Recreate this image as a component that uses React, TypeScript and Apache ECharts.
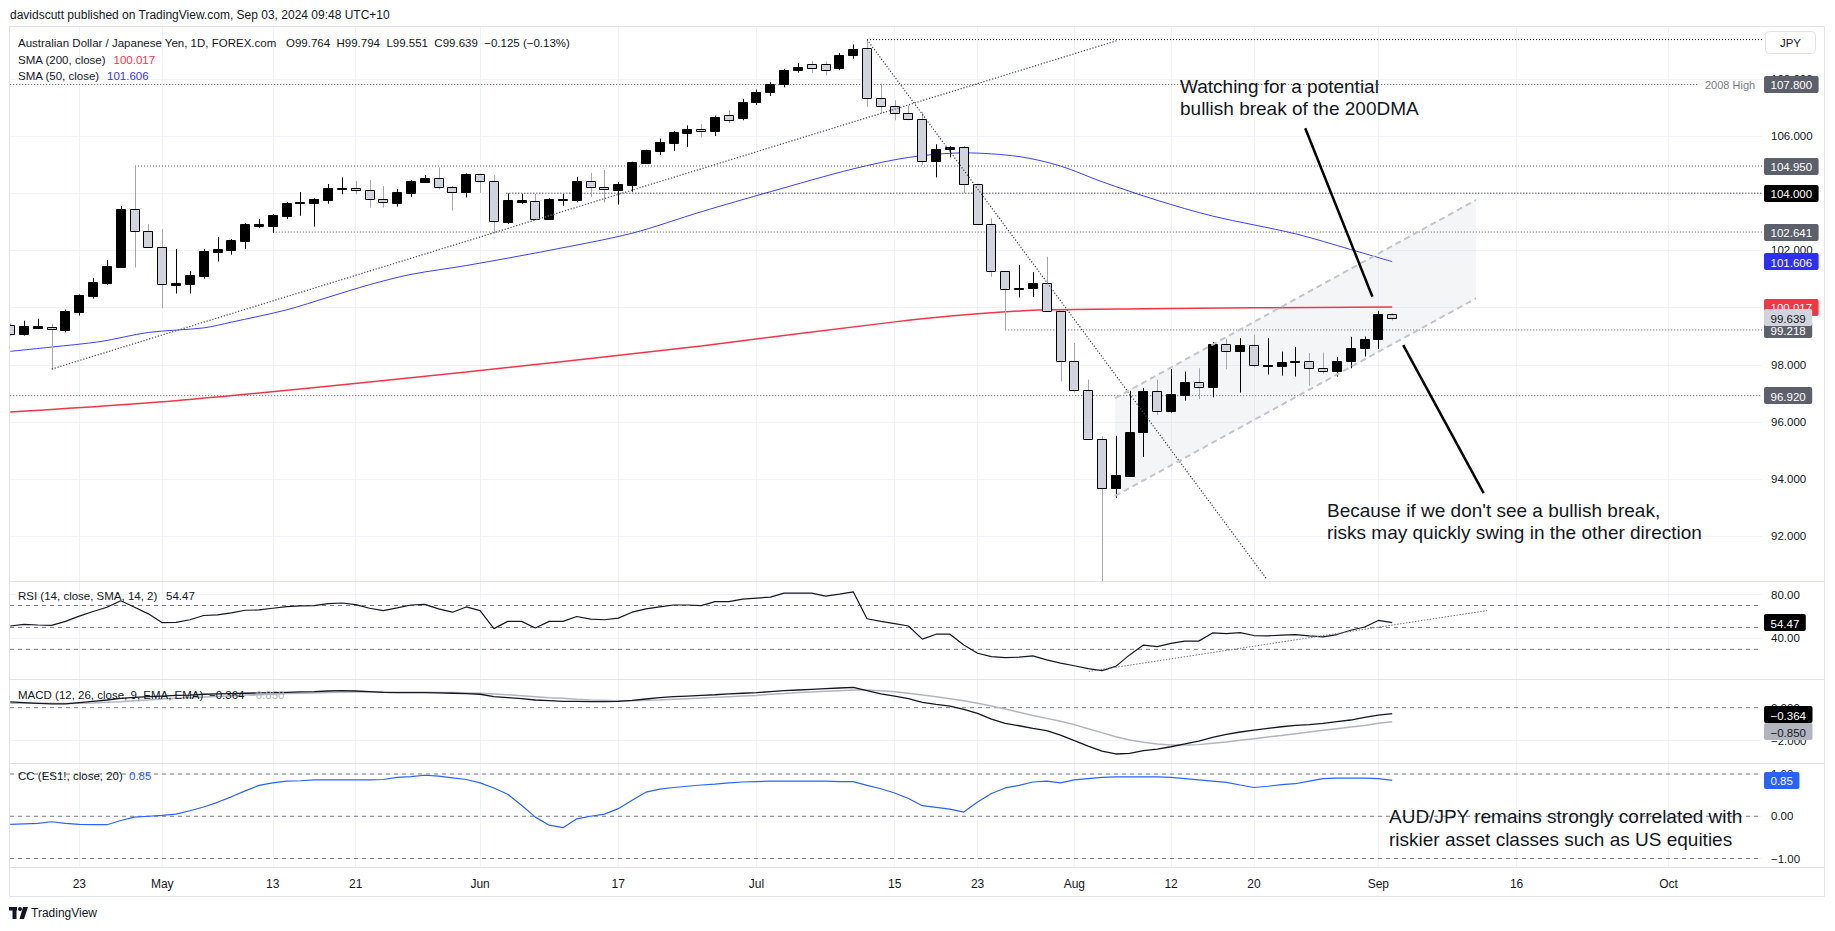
import React, { useEffect, useRef } from "react";
import * as echarts from "echarts";

// ---------------- DATA ----------------
// AUD/JPY daily candles, one row per trading day from Tue 16 Apr 2024 to Tue 3 Sep 2024: [open, high, low, close]
const ohlc: number[][] = [
  [99.40, 99.45, 99.00, 99.07], [99.07, 99.54, 99.02, 99.36], [99.30, 99.61, 99.25, 99.36], [99.32, 99.43, 97.82, 99.25], [99.23, 99.93, 99.13, 99.89],
  [99.86, 100.46, 99.72, 100.44], [100.42, 101.04, 100.31, 100.90], [100.87, 101.66, 100.79, 101.46], [101.43, 103.55, 101.43, 103.44], [103.43, 104.95, 101.40, 102.67],
  [102.67, 102.92, 102.10, 102.13], [102.13, 102.75, 99.97, 100.82], [100.80, 102.05, 100.49, 100.86], [100.84, 101.28, 100.49, 101.13], [101.12, 102.05, 101.01, 101.98],
  [101.96, 102.47, 101.61, 102.05], [102.02, 102.40, 101.85, 102.36], [102.34, 102.96, 102.05, 102.92], [102.86, 103.10, 102.78, 102.92], [102.85, 103.27, 102.62, 103.24],
  [103.21, 103.69, 103.10, 103.67], [103.66, 104.04, 103.21, 103.69], [103.66, 103.82, 102.83, 103.79], [103.77, 104.32, 103.63, 104.17], [104.16, 104.55, 103.96, 104.18],
  [104.17, 104.42, 103.96, 104.10], [104.10, 104.46, 103.49, 103.78], [103.78, 104.25, 103.49, 103.68], [103.66, 104.14, 103.53, 104.03], [104.01, 104.46, 103.87, 104.42],
  [104.40, 104.63, 104.38, 104.53], [104.52, 104.90, 104.13, 104.20], [104.20, 104.25, 103.39, 104.03], [104.03, 104.69, 103.85, 104.67], [104.66, 104.68, 104.01, 104.41],
  [104.41, 104.63, 102.60, 103.02], [103.00, 103.99, 102.93, 103.76], [103.70, 103.98, 103.63, 103.75], [103.72, 103.97, 103.09, 103.11], [103.10, 103.82, 103.08, 103.79],
  [103.76, 103.97, 103.56, 103.78], [103.76, 104.57, 103.68, 104.42], [104.41, 104.71, 103.87, 104.20], [104.20, 104.81, 103.67, 104.13], [104.12, 104.39, 103.60, 104.31],
  [104.29, 105.10, 104.05, 105.09], [105.06, 105.52, 105.03, 105.50], [105.48, 105.91, 105.34, 105.78], [105.76, 106.17, 105.48, 106.13], [106.11, 106.37, 105.62, 106.26],
  [106.26, 106.41, 105.95, 106.16], [106.16, 106.72, 106.00, 106.66], [106.74, 106.90, 106.45, 106.57], [106.62, 107.30, 106.55, 107.20], [107.20, 107.62, 107.08, 107.55],
  [107.52, 107.88, 107.40, 107.80], [107.80, 108.35, 107.70, 108.29], [108.30, 108.55, 108.22, 108.42], [108.52, 108.62, 108.20, 108.36], [108.50, 108.60, 108.12, 108.30],
  [108.37, 108.90, 108.30, 108.82], [108.82, 109.20, 108.70, 109.05], [109.09, 109.37, 107.02, 107.34], [107.34, 107.83, 106.79, 107.06], [107.06, 107.25, 106.55, 106.82],
  [106.82, 107.07, 106.55, 106.61], [106.61, 106.84, 104.99, 105.11], [105.11, 105.71, 104.55, 105.54], [105.53, 105.64, 105.25, 105.63], [105.63, 105.65, 103.99, 104.31],
  [104.31, 104.33, 102.88, 102.91], [102.91, 103.12, 101.08, 101.27], [101.27, 101.28, 99.218, 100.64], [100.66, 101.49, 100.35, 100.70], [100.68, 101.24, 100.38, 100.85],
  [100.85, 101.78, 99.85, 99.87], [99.87, 99.88, 97.42, 98.13], [98.13, 98.76, 97.03, 97.12], [97.12, 97.48, 95.37, 95.41], [95.41, 95.50, 90.15, 93.70],
  [93.70, 95.52, 93.35, 94.13], [94.10, 97.09, 94.08, 95.66], [95.64, 97.19, 94.78, 97.09], [97.09, 97.48, 96.25, 96.38], [96.38, 97.86, 96.33, 96.98],
  [96.96, 97.76, 96.75, 97.40], [97.40, 97.88, 96.80, 97.22], [97.21, 98.79, 96.86, 98.73], [98.73, 98.90, 97.84, 98.48], [98.48, 98.93, 97.03, 98.69],
  [98.69, 99.05, 97.91, 97.98], [97.95, 98.93, 97.66, 97.98], [97.94, 98.46, 97.62, 98.10], [98.11, 98.62, 97.59, 98.13], [98.13, 98.41, 97.27, 97.89],
  [97.89, 98.43, 97.69, 97.78], [97.77, 98.27, 97.59, 98.13], [98.12, 98.98, 97.88, 98.58], [98.57, 98.99, 98.29, 98.90], [98.90, 99.89, 98.55, 99.78],
  [99.764, 99.794, 99.551, 99.639],
];

// Moving averages: [day index, value]
const sma200: number[][] = [
  [0, 96.35], [13, 96.79], [33, 97.75], [50, 98.66], [64, 99.5], [70, 99.78], [75, 99.92], [82, 99.96], [90, 99.99], [100, 100.017],
];
const sma50: number[][] = [
  [0, 98.47], [3, 98.62], [6.5, 98.81], [10, 99.13], [14, 99.29], [16, 99.49], [20, 99.92], [23, 100.36], [26, 100.8], [29, 101.16],
  [33, 101.47], [39, 102.0], [45, 102.6], [50, 103.35], [55, 104.05], [61, 104.85], [65, 105.25], [69, 105.41], [73, 105.28], [76, 104.95],
  [79, 104.4], [83, 103.75], [87, 103.2], [93, 102.58], [97, 102.03], [100, 101.606],
];

// Indicator values, one per trading day (same days as ohlc)
const rsi: number[] = [
  51.3, 52.8, 52.2, 51.9, 55.5, 60.3, 64.5, 68.4, 74.4, 68.4,
  62.4, 54.3, 54.6, 57.0, 60.9, 61.5, 63.3, 65.7, 66.0, 67.5,
  69.0, 69.6, 69.9, 71.7, 72.3, 70.8, 67.5, 65.4, 67.8, 70.5,
  71.1, 66.9, 63.9, 68.7, 65.4, 48.9, 55.5, 55.5, 49.5, 55.5,
  55.5, 60.0, 57.6, 57.0, 58.5, 63.9, 66.9, 68.7, 70.5, 70.5,
  69.9, 73.5, 73.5, 75.9, 76.8, 77.7, 81.3, 81.3, 81.3, 78.6,
  80.4, 82.5, 57.9, 55.5, 53.4, 51.3, 39.3, 43.8, 43.8, 33.9,
  26.4, 23.4, 22.5, 22.8, 24.0, 20.4, 17.4, 15.0, 12.3, 10.5,
  14.4, 24.9, 33.9, 32.4, 35.4, 37.5, 37.5, 45.0, 44.4, 45.3,
  42.6, 42.3, 42.9, 43.5, 42.3, 41.4, 43.5, 47.4, 50.4, 56.4,
  54.47,
];
const macdLine: number[] = [
  0.35, 0.31, 0.27, 0.23, 0.23, 0.31, 0.39, 0.47, 0.57, 0.63,
  0.67, 0.71, 0.75, 0.77, 0.82, 0.84, 0.86, 0.88, 0.9, 0.92,
  0.94, 0.96, 0.98, 1.02, 1.04, 1.02, 0.98, 0.94, 0.92, 0.92,
  0.92, 0.9, 0.88, 0.86, 0.82, 0.67, 0.61, 0.55, 0.47, 0.43,
  0.39, 0.39, 0.37, 0.37, 0.39, 0.45, 0.53, 0.61, 0.67, 0.71,
  0.75, 0.79, 0.84, 0.88, 0.92, 0.98, 1.04, 1.08, 1.12, 1.16,
  1.2, 1.24, 1.04, 0.84, 0.71, 0.55, 0.33, 0.2, 0.1, -0.1,
  -0.34, -0.69, -0.95, -1.1, -1.26, -1.4, -1.67, -2.01, -2.34, -2.64,
  -2.82, -2.78, -2.62, -2.52, -2.38, -2.21, -2.03, -1.81, -1.62, -1.48,
  -1.36, -1.26, -1.16, -1.08, -1.03, -0.95, -0.85, -0.75, -0.59, -0.45,
  -0.364,
];
const macdSignal: number[] = [
  0.27, 0.27, 0.27, 0.27, 0.25, 0.27, 0.29, 0.33, 0.37, 0.43,
  0.47, 0.53, 0.57, 0.61, 0.65, 0.69, 0.73, 0.77, 0.79, 0.82,
  0.86, 0.88, 0.9, 0.92, 0.94, 0.96, 0.96, 0.96, 0.94, 0.94,
  0.94, 0.92, 0.92, 0.9, 0.88, 0.84, 0.79, 0.73, 0.67, 0.61,
  0.57, 0.51, 0.47, 0.45, 0.43, 0.43, 0.45, 0.47, 0.51, 0.55,
  0.59, 0.63, 0.67, 0.71, 0.75, 0.82, 0.86, 0.92, 0.96, 1.0,
  1.04, 1.08, 1.08, 1.04, 0.98, 0.88, 0.77, 0.67, 0.55, 0.43,
  0.27, 0.1, -0.08, -0.28, -0.47, -0.65, -0.83, -1.03, -1.28, -1.52,
  -1.77, -1.97, -2.11, -2.21, -2.27, -2.27, -2.25, -2.17, -2.09, -1.99,
  -1.89, -1.79, -1.69, -1.58, -1.48, -1.38, -1.28, -1.18, -1.08, -0.95,
  -0.85,
];
const ccLine: number[] = [
  -0.19, -0.18, -0.17, -0.13, -0.17, -0.19, -0.2, -0.2, -0.1, -0.02,
  0.0, 0.02, 0.05, 0.13, 0.22, 0.33, 0.46, 0.6, 0.73, 0.79,
  0.83, 0.84, 0.86, 0.86, 0.86, 0.86, 0.86, 0.87, 0.92, 0.94,
  0.97, 0.95, 0.91, 0.87, 0.79, 0.67, 0.52, 0.26, -0.02, -0.21,
  -0.27, -0.06, 0.0, 0.05, 0.18, 0.38, 0.57, 0.64, 0.68, 0.71,
  0.74, 0.76, 0.79, 0.81, 0.82, 0.83, 0.83, 0.83, 0.83, 0.83,
  0.82, 0.82, 0.73, 0.65, 0.55, 0.42, 0.25, 0.21, 0.17, 0.1,
  0.34, 0.54, 0.67, 0.73, 0.81, 0.83, 0.79, 0.86, 0.89, 0.92,
  0.93, 0.93, 0.93, 0.93, 0.92, 0.89, 0.86, 0.83, 0.8, 0.74,
  0.68, 0.71, 0.75, 0.77, 0.83, 0.89, 0.9, 0.9, 0.9, 0.89,
  0.85,
];

// Time axis ticks (trading-day index) and their labels
const timeTickIdx = [5, 11, 19, 25, 34, 44, 54, 64, 70, 77, 84, 90, 99, 109, 120];
const timeTickText = ["23", "May", "13", "21", "Jun", "17", "Jul", "15", "23", "Aug", "12", "20", "Sep", "16", "Oct"];
const priceTicks = [92, 94, 96, 98, 100, 102, 104, 106, 108];
const rsiTicks = [40, 80];
const rsiBands = [70, 50, 30];
const macdTicks = [-2, 0];
const ccTicks = [-1, 0, 1];

// Drawn horizontal levels: [price, first day index]
const levelsDark: number[][] = [[109.37, 62], [104.0, 35.9]];
const levelsGray: number[][] = [[104.95, 9.03], [102.641, 19.0], [99.218, 72.0], [96.92, 0]];
const level2008: number[] = [107.8, 0, 122.1];
// Trend lines & channel: [day index, price]
const trendUp: number[][] = [[3, 97.85], [80.06, 109.33]];
const trendDown: number[][] = [[62, 109.37], [90.87, 90.54]];
const channelUpper: number[][] = [[79.94, 96.83], [106.06, 103.76]];
const channelLower: number[][] = [[79.94, 93.41], [106.06, 100.32]];
const rsiTrend: number[][] = [[78.04, 9.8], [106.87, 65.4]];
const arrowLines: number[][][] = [
  [[93.71, 106.27], [98.57, 100.38]],
  [[106.62, 93.51], [100.8, 98.69]],
];

// Price-scale tags
const priceTags = [
  { v: 107.8, text: "107.800", bg: "#5d606b", fg: "#ffffff" },
  { v: 104.95, text: "104.950", bg: "#5d606b", fg: "#ffffff" },
  { v: 104.0, text: "104.000", bg: "#000000", fg: "#ffffff" },
  { v: 102.641, text: "102.641", bg: "#5d606b", fg: "#ffffff" },
  { v: 101.606, text: "101.606", bg: "#2e2eff", fg: "#ffffff" },
  { v: 100.017, text: "100.017", bg: "#f23645", fg: "#ffffff" },
  { v: 99.218, text: "99.218", bg: "#5d606b", fg: "#ffffff" },
  { v: 99.639, text: "99.639", bg: "#d1d4dc", fg: "#131722" },
  { v: 96.92, text: "96.920", bg: "#5d606b", fg: "#ffffff" },
];

// ---------------- STYLE ----------------
const FONT = '"Liberation Sans", Arial, sans-serif';
const INK = "#131722";
const GRID = "#f0f3fa";
const FRAME = "#e0e3eb";
const X_MIN = -0.015;
const X_MAX = 126.76;
const PLOT_L = 10;
const PLOT_W = 1752;

const fmtMinus = (v: number, d: number) => (v < 0 ? "\u2212" : "") + Math.abs(v).toFixed(d);

function seg(data: number[][], ai: number, color: string, width: number, type: any, z = 4) {
  return {
    type: "line",
    xAxisIndex: ai,
    yAxisIndex: ai,
    data,
    symbol: "none",
    silent: true,
    z,
    clip: true,
    lineStyle: { color, width, type },
  };
}

function buildOption() {
  const grids = [
    { left: PLOT_L, top: 27, width: PLOT_W, height: 554 },
    { left: PLOT_L, top: 581, width: PLOT_W, height: 98 },
    { left: PLOT_L, top: 679, width: PLOT_W, height: 84 },
    { left: PLOT_L, top: 763, width: PLOT_W, height: 104 },
  ];
  const xAxes = grids.map((_, k) => ({
    type: "value",
    gridIndex: k,
    min: X_MIN,
    max: X_MAX,
    axisLine: { show: false },
    axisTick: { show: false, customValues: timeTickIdx },
    splitLine: { show: true, lineStyle: { color: GRID, width: 1 } },
    axisLabel:
      k === 3
        ? {
            show: true,
            customValues: timeTickIdx,
            formatter: (v: number) => {
              const i = timeTickIdx.indexOf(v);
              return i >= 0 ? timeTickText[i] : "";
            },
            color: INK,
            fontSize: 12,
            fontFamily: FONT,
            margin: 11,
          }
        : { show: false },
  }));
  const yAx = (k: number, min: number, max: number, ticks: number[], fmt: (v: number) => string) => ({
    type: "value",
    gridIndex: k,
    position: "right",
    min,
    max,
    axisLine: { show: false },
    axisTick: { show: false, customValues: ticks },
    splitLine: { show: true, lineStyle: { color: GRID, width: 1 } },
    axisLabel: {
      customValues: ticks,
      formatter: fmt,
      color: INK,
      fontSize: 11.5,
      fontFamily: FONT,
      margin: 9,
      align: "left",
    },
  });
  const yAxes = [
    yAx(0, 90.44, 109.81, priceTicks, (v) => v.toFixed(3)),
    yAx(1, 2.9, 92.4, rsiTicks, (v) => v.toFixed(2)),
    yAx(2, -3.37, 1.75, macdTicks, (v) => fmtMinus(v, 3)),
    yAx(3, -1.2, 1.26, ccTicks, (v) => fmtMinus(v, 2)),
  ];

  const series: any[] = [];
  // channel fill
  series.push({
    type: "custom",
    xAxisIndex: 0,
    yAxisIndex: 0,
    z: 1,
    silent: true,
    clip: true,
    data: [0],
    renderItem: (_p: any, api: any) => {
      const a = api.coord(channelUpper[0]);
      const b = api.coord(channelUpper[1]);
      const c = api.coord(channelLower[1]);
      const d = api.coord(channelLower[0]);
      return {
        type: "polygon",
        shape: { points: [a, b, c, d] },
        style: { fill: "rgba(120,123,134,0.08)" },
      };
    },
  });
  // levels
  levelsGray.forEach(([v, from]) => series.push(seg([[from, v], [X_MAX, v]], 0, "#5d606b", 1, [1, 2], 3)));
  levelsDark.forEach(([v, from]) => series.push(seg([[from, v], [X_MAX, v]], 0, "#131722", 1, [1, 2], 3)));
  series.push(seg([[level2008[1], level2008[0]], [level2008[2], level2008[0]]], 0, "#5d606b", 1, [1, 2], 3));
  // moving averages
  series.push({
    ...seg(sma200, 0, "#f23645", 1.5, "solid", 2),
    smooth: 0.3,
    markLine: {
      silent: true,
      symbol: ["none", "arrow"],
      symbolSize: [0, 13],
      label: { show: false },
      lineStyle: { color: "#000000", width: 2.5, type: "solid" },
      data: arrowLines.map((ln) => [{ coord: ln[0] }, { coord: ln[1] }]),
      z: 10,
    },
  });
  series.push({ ...seg(sma50, 0, "#3d3dff", 1, "solid", 2), smooth: 0.3 });
  // candles
  series.push({
    type: "custom",
    xAxisIndex: 0,
    yAxisIndex: 0,
    z: 5,
    clip: true,
    silent: true,
    encode: { x: 0, y: [1, 2, 3, 4] },
    data: ohlc.map((r, j) => [j, r[0], r[1], r[2], r[3]]),
    renderItem: (_p: any, api: any) => {
      const j = api.value(0);
      const o = api.value(1);
      const h = api.value(2);
      const l = api.value(3);
      const c = api.value(4);
      const pO = api.coord([j, o]);
      const pC = api.coord([j, c]);
      const pH = api.coord([j, h]);
      const pL = api.coord([j, l]);
      const unit = api.size([1, 0])[0];
      const w = Math.max(3, Math.round(unit * 0.74));
      const cx = Math.round(pO[0]);
      const up = c >= o;
      const top = Math.round(Math.min(pO[1], pC[1]));
      const bot = Math.round(Math.max(pO[1], pC[1]));
      const x0 = cx - Math.floor(w / 2);
      return {
        type: "group",
        children: [
          {
            type: "line",
            shape: { x1: cx + 0.5, y1: pH[1], x2: cx + 0.5, y2: pL[1] },
            style: { stroke: up ? "#000000" : "#a3a6af", lineWidth: 1 },
          },
          {
            type: "rect",
            shape: { x: x0 + 0.5, y: top + 0.5, width: w - 1, height: Math.max(1, bot - top) },
            style: { fill: up ? "#000000" : "#d1d4dc", stroke: "#000000", lineWidth: 1 },
          },
        ],
      };
    },
  });
  // trend lines and channel borders
  series.push(seg(trendUp, 0, "#5d606b", 1.3, [1.3, 1.7], 6));
  series.push(seg(trendDown, 0, "#434651", 1.2, [1.2, 1.8], 6));
  series.push(seg(channelUpper, 0, "#c3c5cc", 2, [6, 4], 6));
  series.push(seg(channelLower, 0, "#c3c5cc", 2, [6, 4], 6));

  // RSI pane
  rsiBands.forEach((v) => series.push(seg([[X_MIN, v], [X_MAX, v]], 1, "#787b86", 1, [4, 4], 3)));
  series.push(seg(rsi.map((v, j) => [j, v]), 1, "#131722", 1.2, "solid", 4));
  series.push(seg(rsiTrend, 1, "#787b86", 1, [1.5, 1.5], 5));

  // MACD pane
  series.push(seg([[X_MIN, 0], [X_MAX, 0]], 2, "#787b86", 1, [4, 4], 3));
  series.push(seg(macdSignal.map((v, j) => [j, v]), 2, "#b2b5be", 1.5, "solid", 4));
  series.push(seg(macdLine.map((v, j) => [j, v]), 2, "#131722", 1.3, "solid", 5));

  // CC pane
  ccTicks.forEach((v) => series.push(seg([[X_MIN, v], [X_MAX, v]], 3, "#787b86", 1, [4, 4], 3)));
  series.push(seg(ccLine.map((v, j) => [j, v]), 3, "#2962ff", 1.2, "solid", 4));

  return {
    animation: false,
    backgroundColor: "#ffffff",
    grid: grids,
    xAxis: xAxes,
    yAxis: yAxes,
    series,
  };
}

const charW = (ch: string) => (ch === "." ? 3.2 : ch === "\u2212" ? 6.7 : 6.4);
const textW = (s: string) => s.split("").reduce((a, ch) => a + charW(ch), 0);

function txt(x: number, y: number, text: string, size: number, color: string, extra: any = {}) {
  return {
    type: "text",
    x,
    y,
    silent: true,
    z: 110,
    style: { text, fill: color, fontSize: size, fontFamily: FONT, verticalAlign: "middle", align: "left", ...extra },
  };
}

function buildGraphics(chart: any) {
  const py = (axis: number, v: number) => chart.convertToPixel({ yAxisIndex: axis }, v) as number;
  const els: any[] = [];
  // frame & separators
  els.push({
    type: "rect",
    silent: true,
    z: 50,
    shape: { x: 9.5, y: 26.5, width: 1815, height: 870 },
    style: { fill: "none", stroke: FRAME, lineWidth: 1 },
  });
  [581.5, 679.5, 763.5, 867.5].forEach((y) =>
    els.push({
      type: "line",
      silent: true,
      z: 50,
      shape: { x1: 9.5, y1: y, x2: 1824.5, y2: y },
      style: { stroke: FRAME, lineWidth: 1 },
    })
  );
  // header & legends
  els.push(txt(10, 15, "davidscutt published on TradingView.com, Sep 03, 2024 09:48 UTC+10", 12, INK));
  els.push(txt(18, 43, "Australian Dollar / Japanese Yen, 1D, FOREX.com", 11.5, INK));
  els.push(txt(286, 43, "O99.764  H99.794  L99.551  C99.639  \u22120.125 (\u22120.13%)", 11.5, INK));
  els.push(txt(18, 59.5, "SMA (200, close)", 11.5, INK));
  els.push(txt(113.5, 59.5, "100.017", 11.5, "#f23645"));
  els.push(txt(18, 76, "SMA (50, close)", 11.5, INK));
  els.push(txt(107, 76, "101.606", 11.5, "#3333ff"));
  els.push(txt(18, 596, "RSI (14, close, SMA, 14, 2)", 11.5, INK));
  els.push(txt(166, 596, "54.47", 11.5, INK));
  els.push(txt(18, 695, "MACD (12, 26, close, 9, EMA, EMA)", 11.5, INK));
  els.push(txt(209, 695, "\u22120.364", 11.5, INK));
  els.push(txt(249, 695, "\u22120.850", 11.5, "#b2b5be"));
  els.push(txt(18, 776, "CC (ES1!, close, 20)", 11.5, INK));
  els.push(txt(129, 776, "0.85", 11.5, "#2962ff"));
  // annotations
  els.push(
    txt(1180, 75.9, "Watching for a potential\nbullish break of the 200DMA", 19, INK, {
      verticalAlign: "top",
      lineHeight: 21.6,
    })
  );
  els.push(
    txt(1327, 499.7, "Because if we don't see a bullish break,\nrisks may quickly swing in the other direction", 19, INK, {
      verticalAlign: "top",
      lineHeight: 22,
    })
  );
  els.push(
    txt(1389, 804.5, "AUD/JPY remains strongly correlated with\nriskier asset classes such as US equities", 19, INK, {
      verticalAlign: "top",
      lineHeight: 23,
    })
  );
  els.push(txt(1705, 84.5, "2008 High", 11, "#787b86"));
  // JPY button
  els.push({
    type: "rect",
    silent: true,
    z: 110,
    shape: { x: 1765.5, y: 31.5, width: 50, height: 22, r: 4 },
    style: { fill: "#ffffff", stroke: FRAME, lineWidth: 1 },
  });
  els.push(txt(1790.5, 42.5, "JPY", 11.5, INK, { align: "center" }));
  // TradingView logo
  els.push({ type: "rect", silent: true, z: 110, shape: { x: 9, y: 907, width: 8, height: 3.5 }, style: { fill: INK } });
  els.push({ type: "rect", silent: true, z: 110, shape: { x: 12.5, y: 907, width: 4, height: 12 }, style: { fill: INK } });
  els.push({ type: "circle", silent: true, z: 110, shape: { cx: 20, cy: 909, r: 2 }, style: { fill: INK } });
  els.push({
    type: "polygon",
    silent: true,
    z: 110,
    shape: { points: [[23, 907], [28, 907], [24, 919], [19.5, 919]] },
    style: { fill: INK },
  });
  els.push(txt(31, 913, "TradingView", 12, INK));

  // tags
  let zz = 120;
  const tag = (y: number, text: string, bg: string, fg: string) => {
    const w = textW(text) + 13;
    els.push({
      type: "rect",
      silent: true,
      z: zz++,
      shape: { x: 1764, y: Math.round(y - 8.5), width: w, height: 17, r: 2 },
      style: { fill: bg },
    });
    els.push({
      type: "text",
      silent: true,
      z: zz++,
      x: 1770.5,
      y: Math.round(y) + 0.5,
      style: { text, fill: fg, fontSize: 11.5, fontFamily: FONT, verticalAlign: "middle", align: "left" },
    });
  };
  priceTags.forEach((t) => tag(py(0, t.v), t.text, t.bg, t.fg));
  tag(py(1, 54.47), "54.47", "#000000", "#ffffff");
  const yMacd = py(2, -0.364);
  tag(yMacd + 1, "\u22120.364", "#000000", "#ffffff");
  tag(yMacd + 18, "\u22120.850", "#b2b5be", INK);
  tag(py(3, 0.85), "0.85", "#2962ff", "#ffffff");
  return els;
}

export default function App() {
  const ref = useRef<HTMLDivElement>(null);
  useEffect(() => {
    if (!ref.current) return;
    const chart = echarts.init(ref.current, null, { renderer: "svg" });
    chart.setOption(buildOption() as any);
    chart.setOption({ graphic: buildGraphics(chart) } as any);
    return () => chart.dispose();
  }, []);
  return (
    <div
      ref={ref}
      style={{ position: "absolute", left: 0, top: 0, width: 1835, height: 931, background: "#ffffff" }}
    />
  );
}
